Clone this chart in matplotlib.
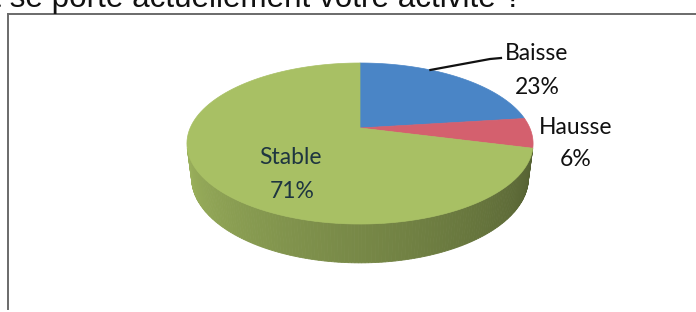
import numpy as np
import matplotlib
matplotlib.use('Agg')
import matplotlib.pyplot as plt
from matplotlib.patches import Polygon
from matplotlib.colors import to_rgb

labels = ['Baisse', 'Hausse', 'Stable']
values = [23, 6, 71]
top_colors = ['#4a85c6', '#d4606e', '#a8c064']
title = 'Comment se porte actuellement votre activité ?'

# layout of the 3D pie (pixel space)
CX, CY = 360, 128
PHI = np.radians(29)
DIST = 4.54
FX, FY = 771, 726
DEPTH = 0.25


def proj(theta, h=0.0):
    X = np.sin(theta)
    Z = np.cos(theta)
    yc = h * np.cos(PHI) + Z * np.sin(PHI)
    zc = DIST + Z * np.cos(PHI) - h * np.sin(PHI)
    return CX + FX * X / zc, CY - FY * yc / zc


fig = plt.figure(figsize=(6.96, 3.12), dpi=100)
ax = fig.add_axes([0, 0, 1, 1])
ax.set_xlim(0, 696)
ax.set_ylim(312, 0)
ax.axis('off')

# frame of the chart area
ax.plot([8, 696], [14, 14], color='#6a6a6a', lw=1.4)
ax.plot([8, 8], [14, 309], color='#6a6a6a', lw=1.4)

# title, cut by the scan at the top
ax.text(522, 7, title, ha='right', va='baseline', fontsize=22.6,
        family='Liberation Sans', color='#111111')

fracs = np.array(values) / sum(values)
edges = np.concatenate([[0], np.cumsum(fracs)]) * 2 * np.pi

# side wall (only the part facing the viewer)
vis_lim = np.arccos(-1 / (DIST * np.cos(PHI)))
side_angles = np.linspace(vis_lim, 2 * np.pi - vis_lim, 160)
for a0, a1 in zip(side_angles[:-1], side_angles[1:]):
    mid = 0.5 * (a0 + a1)
    idx = np.searchsorted(edges, mid) - 1
    base = np.array(to_rgb(top_colors[idx]))
    # darker toward the right, lighter toward the left
    t = (mid - vis_lim) / (2 * np.pi - 2 * vis_lim)
    shade = 0.50 + 0.42 * t
    col = np.clip(base * shade, 0, 1)
    xs, ys = [], []
    for a, h in [(a0, 0), (a1, 0), (a1, -DEPTH), (a0, -DEPTH)]:
        x, y = proj(a, h)
        xs.append(x)
        ys.append(y)
    ax.add_patch(Polygon(np.column_stack([xs, ys]), closed=True,
                         facecolor=col, edgecolor=col, lw=0.6))

# top face
for i in range(len(values)):
    th = np.linspace(edges[i], edges[i + 1], 120)
    px, py = proj(th)
    pts = np.vstack([[CX, CY], np.column_stack([px, py])])
    ax.add_patch(Polygon(pts, closed=True, facecolor=top_colors[i],
                         edgecolor=top_colors[i], lw=0.5))

# labels
lab_font = 'Lato'
fs = 16.5
ax.text(537, 54, labels[0], ha='center', va='center', fontsize=fs,
        family=lab_font, color='#111111')
ax.text(537, 87, f'{values[0]}%', ha='center', va='center', fontsize=fs,
        family=lab_font, color='#111111')
ax.text(576, 127, labels[1], ha='center', va='center', fontsize=fs,
        family=lab_font, color='#111111')
ax.text(576, 159, f'{values[1]}%', ha='center', va='center', fontsize=fs,
        family=lab_font, color='#111111')
ax.text(290, 158, labels[2], ha='center', va='center', fontsize=fs,
        family=lab_font, color='#1e3540')
ax.text(292, 192, f'{values[2]}%', ha='center', va='center', fontsize=fs,
        family=lab_font, color='#1e3540')

# leader line for Baisse
lx, ly = proj(edges[1] * 0.35)
ax.plot([lx, 490, 501], [ly, 59, 58], color='#111111', lw=1.6)

fig.savefig('out.png', dpi=100)
